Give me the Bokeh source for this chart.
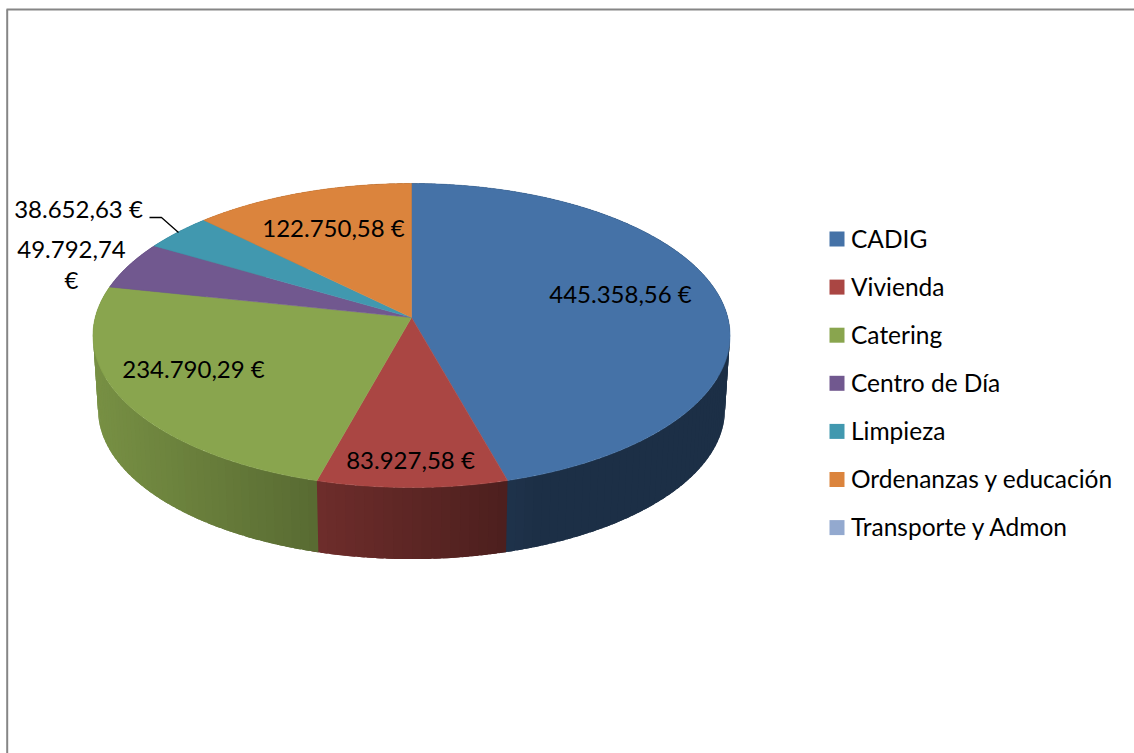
import numpy as np
from bokeh.plotting import figure
from bokeh.models import Range1d
from bokeh.core.properties import value
from bokeh.embed import file_html
from bokeh.resources import INLINE

categories = ["CADIG", "Vivienda", "Catering", "Centro de Día", "Limpieza",
              "Ordenanzas y educación", "Transporte y Admon"]
amounts = [445358.56, 83927.58, 234790.29, 49792.74, 38652.63, 122750.58, 0.0]

colors = ["#4572A7", "#AA4643", "#89A54E", "#71588F", "#4198AF", "#DB843D", "#93A9CF"]

FONT = "Lato"
FS_LABEL = "24px"
FS_LEGEND = "24.5px"
CX = 411.0
TOP_Y0 = 317.0
BOT_Y0 = 391.3
BOT_S = 0.984
A, B, K = 316.3, 149.9, 0.1184


def fmt(v):
    s = f"{v:,.2f}".replace(",", "#").replace(".", ",").replace("#", ".")
    return s + " €"


def project(theta, y0=TOP_Y0, s=1.0):
    d = 1 + K * np.cos(theta)
    return CX + s * A * np.sin(theta) / d, y0 - s * B * np.cos(theta) / d


def shade(hex_color, x):
    f = max(0.42, 0.87 - (x - 97) * 0.00103)
    r, g, b = (int(hex_color[i:i + 2], 16) for i in (1, 3, 5))
    return "#%02x%02x%02x" % (int(r * f), int(g * f), int(b * f))


p = figure(width=1134, height=753, output_backend="svg", toolbar_location=None,
           x_range=Range1d(0, 1134), y_range=Range1d(753, 0),
           min_border=0, outline_line_color=None)
p.xaxis.visible = False
p.yaxis.visible = False
p.xgrid.visible = False
p.ygrid.visible = False
p.background_fill_color = "white"
p.border_fill_color = "white"

# chart frame
p.line([6.7, 6.7], [9, 753], line_color="#868686", line_width=2)
p.line([6, 1134], [9, 9], line_color="#868686", line_width=2)

total = sum(amounts)
edges = np.concatenate([[0], np.cumsum(amounts)]) / total * 2 * np.pi
overlap = np.radians(1.2)

# rim, in narrow overlapping strips so that it can carry the light gradient
for i, c in enumerate(colors):
    a0, a1 = edges[i], edges[i + 1]
    if a1 <= a0:
        continue
    n = max(2, int(np.degrees(a1 - a0) / 1.5))
    t = np.linspace(a0, a1, n + 1)
    xs, ys, fc = [], [], []
    for j in range(n):
        tt = np.linspace(t[j], t[j + 1] + overlap, 5)
        xa, ya = project(tt)
        xb, yb = project(tt[::-1], BOT_Y0, BOT_S)
        xs.append(np.r_[xa, xb].tolist())
        ys.append(np.r_[ya, yb].tolist())
        fc.append(shade(c, float(xa.mean())))
    p.patches(xs, ys, fill_color=fc, line_color=None)

# top face
for i, c in enumerate(colors):
    a0, a1 = edges[i], edges[i + 1]
    if a1 <= a0:
        continue
    t = np.linspace(a0, a1, max(3, int(np.degrees(a1 - a0)) * 2))
    x, y = project(t)
    p.patch(np.r_[CX, x], np.r_[TOP_Y0, y], fill_color=c, line_color=c, line_width=0.5)

# data labels: placement of each label, in the order of the categories
label_x = [620, 410, 193, 71, 78, 333]
label_y = [293, 459, 368, 249, 208, 227]
texts = [fmt(v) for v in amounts[:6]]
texts[3] = fmt(amounts[3]).replace(" €", "")
p.text(label_x, label_y, text=texts, text_font=value(FONT), text_font_size=FS_LABEL,
       text_color="black", text_align="center", text_baseline="middle")
p.text([71], [279], text=["€"], text_font=value(FONT), text_font_size=FS_LABEL,
       text_color="black", text_align="center", text_baseline="middle")

# leader line of the Limpieza label
p.line([149, 161, 178], [217, 217, 232], line_color="black", line_width=1.3)

# legend
leg_y = [238.5 + 48.1 * i for i in range(len(categories))]
p.rect([836.5] * len(categories), leg_y, width=15, height=15, fill_color=colors, line_color=None)
p.text([850.5] * len(categories), [y - 1 for y in leg_y], text=categories, text_font=value(FONT),
       text_font_size=FS_LEGEND, text_color="black", text_align="left", text_baseline="middle")

open("out.html", "w").write(file_html(p, INLINE))
